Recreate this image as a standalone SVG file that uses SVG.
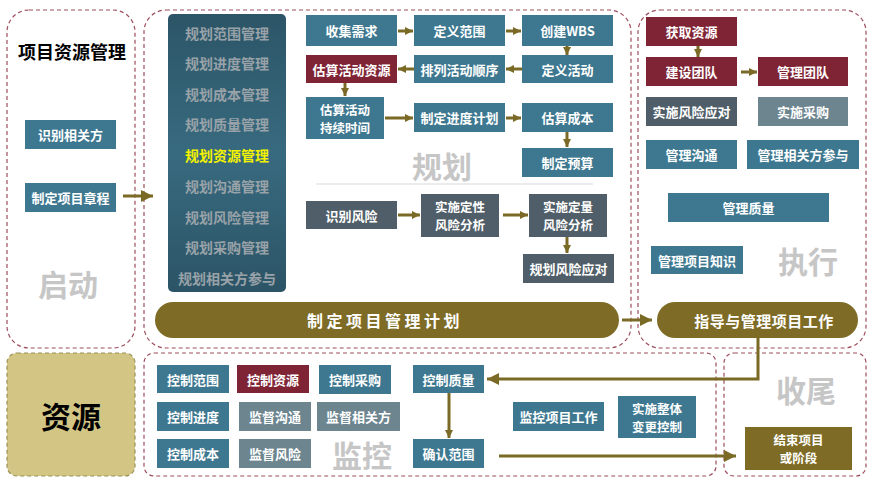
<svg xmlns="http://www.w3.org/2000/svg" width="874" height="487" viewBox="0 0 874 487">
<style>
.panel{fill:#fff;stroke:#9E4E5E;stroke-width:1.2;stroke-dasharray:4 3}
.teal{fill:#3E7890}
.red{fill:#7F2435}
.slate{fill:#4F5E68}
.grayt{fill:#6C858F}
.olive{fill:#7E6C26}
.t{font-family:"Noto Sans CJK SC","Liberation Sans",sans-serif;font-weight:bold;font-size:13px;fill:#fff;text-anchor:middle;dominant-baseline:central}
.t2{font-size:12.5px}
.side{font-family:"Noto Sans CJK SC","Liberation Sans",sans-serif;font-weight:bold;font-size:14px;fill:#98A2A8;text-anchor:middle;dominant-baseline:central}
.big{font-family:"Noto Sans CJK SC","Liberation Sans",sans-serif;font-weight:bold;font-size:30px;fill:#C6C6C6;text-anchor:middle;dominant-baseline:central}
.arr{fill:none;stroke:#7A6A25;stroke-width:3}
</style>
<defs>
<marker id="ah" viewBox="0 0 10 10" refX="10" refY="5" markerWidth="8" markerHeight="9" markerUnits="userSpaceOnUse" orient="auto"><path d="M0,0 L10,5 L0,10 z" fill="#7A6A25"/></marker>
<marker id="ahL" viewBox="0 0 10 10" refX="10" refY="5" markerWidth="12" markerHeight="13" markerUnits="userSpaceOnUse" orient="auto"><path d="M0,0 L10,5 L0,10 z" fill="#7A6A25"/></marker>
<linearGradient id="sg" x1="0" y1="0" x2="0" y2="1">
<stop offset="0" stop-color="#2C5567"/><stop offset="0.5" stop-color="#386A7F"/><stop offset="1" stop-color="#2C5466"/>
</linearGradient>
</defs>

<g id="panels">
<rect class="panel" x="7" y="10" width="128" height="338" rx="22"/>
<rect class="panel" x="144" y="10" width="487" height="338" rx="22"/>
<rect class="panel" x="638" y="10" width="228" height="338" rx="22"/>
<rect x="7" y="353" width="128" height="123" rx="10" fill="#D3C685" stroke="#9A8F55" stroke-width="1.2" stroke-dasharray="4 3"/>
<rect class="panel" x="144" y="353" width="572" height="123" rx="10"/>
<rect class="panel" x="724" y="353" width="142" height="123" rx="10"/>
<line x1="316" y1="184" x2="593" y2="184" stroke="#D9D9D9" stroke-width="1"/>
</g>

<g id="labels">
<text x="72" y="51" font-family="Noto Sans CJK SC,sans-serif" font-weight="bold" font-size="18" fill="#000" text-anchor="middle" dominant-baseline="central">项目资源管理</text>
<text class="big" x="68" y="283">启动</text>
<text class="big" x="442" y="165">规划</text>
<text class="big" x="808" y="260">执行</text>
<text class="big" x="362" y="454">监控</text>
<text class="big" x="806" y="389">收尾</text>
<text x="71" y="415" font-family="Noto Sans CJK SC,sans-serif" font-weight="bold" font-size="30" fill="#000" text-anchor="middle" dominant-baseline="central">资源</text>
</g>

<g id="initiating">
<g id="n-identify-stakeholders"><rect class="teal" x="25" y="120" width="91" height="29"/><text class="t" x="70.5" y="134.5">识别相关方</text></g>
<g id="n-charter"><rect class="teal" x="25" y="183" width="91" height="29"/><text class="t" x="70.5" y="197.5">制定项目章程</text></g>
</g>

<g id="n-plan-sidebar">
<rect x="168" y="14" width="118" height="278" rx="5" fill="url(#sg)"/>
<text class="side" x="227" y="33">规划范围管理</text>
<text class="side" x="227" y="63">规划进度管理</text>
<text class="side" x="227" y="94">规划成本管理</text>
<text class="side" x="227" y="124">规划质量管理</text>
<text class="side" x="227" y="155" style="fill:#F2F200">规划资源管理</text>
<text class="side" x="227" y="186">规划沟通管理</text>
<text class="side" x="227" y="217">规划风险管理</text>
<text class="side" x="227" y="247">规划采购管理</text>
<text class="side" x="227" y="278">规划相关方参与</text>
</g>

<g id="planning">
<g id="n1"><rect class="teal" x="306" y="15" width="91" height="31"/><text class="t" x="351.5" y="30.5">收集需求</text></g>
<g id="n2"><rect class="teal" x="414" y="15" width="91" height="31"/><text class="t" x="459.5" y="30.5">定义范围</text></g>
<g id="n3"><rect class="teal" x="522" y="15" width="91" height="31"/><text class="t" x="567.5" y="30.5">创建WBS</text></g>
<g id="n4"><rect class="teal" x="522" y="55" width="91" height="28"/><text class="t" x="567.5" y="69">定义活动</text></g>
<g id="n5"><rect class="teal" x="414" y="55" width="91" height="28"/><text class="t" x="459.5" y="69">排列活动顺序</text></g>
<g id="n6"><rect class="red" x="306" y="55" width="91" height="28"/><text class="t" x="351.5" y="69">估算活动资源</text></g>
<g id="n7"><rect class="teal" x="306" y="97" width="78" height="42"/><text class="t t2" x="345" y="109">估算活动</text><text class="t t2" x="345" y="127">持续时间</text></g>
<g id="n8"><rect class="teal" x="414" y="103" width="91" height="29"/><text class="t" x="459.5" y="117.5">制定进度计划</text></g>
<g id="n9"><rect class="teal" x="522" y="103" width="91" height="29"/><text class="t" x="567.5" y="117.5">估算成本</text></g>
<g id="n10"><rect class="teal" x="522" y="148" width="91" height="29"/><text class="t" x="567.5" y="162.5">制定预算</text></g>
<g id="n11"><rect class="slate" x="306" y="201" width="91" height="28"/><text class="t" x="351.5" y="215">识别风险</text></g>
<g id="n12"><rect class="slate" x="421" y="194" width="78" height="43"/><text class="t t2" x="460" y="206.5">实施定性</text><text class="t t2" x="460" y="224.5">风险分析</text></g>
<g id="n13"><rect class="slate" x="529" y="194" width="78" height="43"/><text class="t t2" x="568" y="206.5">实施定量</text><text class="t t2" x="568" y="224.5">风险分析</text></g>
<g id="n14"><rect class="slate" x="523" y="254" width="91" height="29"/><text class="t" x="568.5" y="268.5">规划风险应对</text></g>
<g id="n-pmplan"><rect class="olive" x="155" y="302" width="464" height="36" rx="18"/><text class="t" x="385" y="320" style="font-size:16px;letter-spacing:3.5px">制定项目管理计划</text></g>
</g>

<g id="executing">
<g id="e1"><rect class="red" x="646" y="17" width="91" height="29"/><text class="t" x="691.5" y="31.5">获取资源</text></g>
<g id="e2"><rect class="red" x="646" y="57" width="91" height="29"/><text class="t" x="691.5" y="71.5">建设团队</text></g>
<g id="e3"><rect class="red" x="758" y="57" width="90" height="29"/><text class="t" x="803" y="71.5">管理团队</text></g>
<g id="e4"><rect class="slate" x="646" y="97" width="91" height="29"/><text class="t" x="691.5" y="111.5">实施风险应对</text></g>
<g id="e5"><rect class="grayt" x="758" y="97" width="90" height="29"/><text class="t" x="803" y="111.5">实施采购</text></g>
<g id="e6"><rect class="teal" x="646" y="140" width="91" height="29"/><text class="t" x="691.5" y="154.5">管理沟通</text></g>
<g id="e7"><rect class="teal" x="747" y="140" width="112" height="29"/><text class="t" x="803" y="154.5">管理相关方参与</text></g>
<g id="e8"><rect class="teal" x="668" y="193" width="161" height="29"/><text class="t" x="748.5" y="207.5">管理质量</text></g>
<g id="e9"><rect class="teal" x="651" y="246" width="92" height="28"/><text class="t" x="697" y="260">管理项目知识</text></g>
<g id="e-direct"><rect class="olive" x="657" y="302" width="201" height="36" rx="18"/><text class="t" x="764" y="320" style="font-size:15px;letter-spacing:0.5px">指导与管理项目工作</text></g>
</g>

<g id="monitoring">
<g id="m1"><rect class="teal" x="157" y="365" width="72" height="28"/><text class="t" x="193" y="379">控制范围</text></g>
<g id="m2"><rect class="red" x="237" y="365" width="72" height="28"/><text class="t" x="273" y="379">控制资源</text></g>
<g id="m3"><rect class="teal" x="319" y="365" width="72" height="29"/><text class="t" x="355" y="379.5">控制采购</text></g>
<g id="m4"><rect class="teal" x="157" y="402" width="72" height="29"/><text class="t" x="193" y="416.5">控制进度</text></g>
<g id="m5"><rect class="grayt" x="239" y="402" width="72" height="29"/><text class="t" x="275" y="416.5">监督沟通</text></g>
<g id="m6"><rect class="grayt" x="317" y="402" width="83" height="29"/><text class="t" x="358.5" y="416.5">监督相关方</text></g>
<g id="m7"><rect class="teal" x="157" y="439" width="72" height="29"/><text class="t" x="193" y="453.5">控制成本</text></g>
<g id="m8"><rect class="grayt" x="239" y="439" width="72" height="29"/><text class="t" x="275" y="453.5">监督风险</text></g>
<g id="m9"><rect class="teal" x="413" y="365" width="71" height="28"/><text class="t" x="448.5" y="379">控制质量</text></g>
<g id="m10"><rect class="teal" x="413" y="439" width="71" height="29"/><text class="t" x="448.5" y="453.5">确认范围</text></g>
<g id="m11"><rect class="teal" x="513" y="402" width="91" height="29"/><text class="t" x="558.5" y="416.5">监控项目工作</text></g>
<g id="m12"><rect class="teal" x="618" y="396" width="78" height="42"/><text class="t t2" x="657" y="408">实施整体</text><text class="t t2" x="657" y="426">变更控制</text></g>
</g>

<g id="closing">
<g id="c1"><rect class="olive" x="745" y="427" width="107" height="43"/><text class="t t2" x="798.5" y="439.5">结束项目</text><text class="t t2" x="798.5" y="457.5">或阶段</text></g>
</g>

<g id="connectors">
<line class="arr" x1="123" y1="196" x2="153" y2="196" marker-end="url(#ahL)"/>
<line class="arr" x1="398" y1="31" x2="413" y2="31" marker-end="url(#ah)"/>
<line class="arr" x1="506" y1="31" x2="521" y2="31" marker-end="url(#ah)"/>
<line class="arr" x1="567" y1="46" x2="567" y2="55" marker-end="url(#ah)"/>
<line class="arr" x1="522" y1="69" x2="506" y2="69" marker-end="url(#ah)"/>
<line class="arr" x1="414" y1="69" x2="398" y2="69" marker-end="url(#ah)"/>
<line class="arr" x1="345" y1="83" x2="345" y2="96" marker-end="url(#ah)"/>
<line class="arr" x1="385" y1="118" x2="413" y2="118" marker-end="url(#ah)"/>
<line class="arr" x1="506" y1="118" x2="521" y2="118" marker-end="url(#ah)"/>
<line class="arr" x1="567" y1="132" x2="567" y2="147" marker-end="url(#ah)"/>
<line class="arr" x1="398" y1="215" x2="420" y2="215" marker-end="url(#ah)"/>
<line class="arr" x1="503" y1="215" x2="528" y2="215" marker-end="url(#ah)"/>
<line class="arr" x1="567" y1="237" x2="567" y2="253" marker-end="url(#ah)"/>
<line class="arr" x1="698" y1="46" x2="698" y2="57" marker-end="url(#ah)"/>
<line class="arr" x1="741" y1="72" x2="757" y2="72" marker-end="url(#ah)"/>
<line class="arr" x1="622" y1="320" x2="652" y2="320" marker-end="url(#ahL)"/>
<path class="arr" d="M758,338 V379 H487" marker-end="url(#ahL)"/>
<line class="arr" x1="449" y1="393" x2="449" y2="438" marker-end="url(#ah)"/>
<line class="arr" x1="499" y1="456" x2="736" y2="456" marker-end="url(#ahL)"/>
</g>
</svg>
